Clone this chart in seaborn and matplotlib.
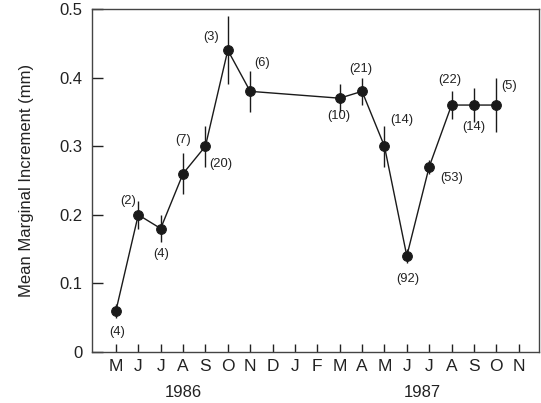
import matplotlib
matplotlib.use("Agg")
import matplotlib.pyplot as plt
import seaborn as sns
import pandas as pd
import numpy as np

# --- data ---
month_labels = ["M", "J", "J", "A", "S", "O", "N", "D", "J", "F", "M", "A", "M", "J", "J", "A", "S", "O", "N"]
sample_month_idx = [0, 1, 2, 3, 4, 5, 6, 10, 11, 12, 13, 14, 15, 16, 17]
mean_increment = [0.06, 0.20, 0.18, 0.26, 0.30, 0.44, 0.38, 0.37, 0.38, 0.30, 0.14, 0.27, 0.36, 0.36, 0.36]
error = [0.01, 0.02, 0.02, 0.03, 0.03, 0.05, 0.03, 0.02, 0.02, 0.03, 0.01, 0.01, 0.02, 0.025, 0.04]
sample_n = [4, 2, 4, 7, 20, 3, 6, 10, 21, 14, 92, 53, 22, 14, 5]
year_labels = ["1986", "1987"]
year_pos = [3.0, 13.7]

# label offsets in pixels (placement only)
label_offsets = [(1, -21), (-10, 14), (1, -25), (0, 34), (15, -18), (-17, 13), (12, 28),
                 (-1, -18), (-1, 22), (17, 26), (1, -23), (22, -11), (-2, 25), (0, -22), (13, 19)]

df = pd.DataFrame({"month": sample_month_idx, "mmi": mean_increment, "err": error, "n": sample_n})

sns.set_style("ticks")
plt.rcParams['font.family'] = ['Liberation Sans', 'DejaVu Sans']
plt.rcParams['xtick.direction'] = 'in'
plt.rcParams['ytick.direction'] = 'in'

fig = plt.figure(figsize=(5.41, 4.03), dpi=100)
ax = fig.add_axes([0.170, 0.1266, 0.826, 0.851])

col = "#1a1a1a"
ax.errorbar(df["month"], df["mmi"], yerr=df["err"], fmt="none", ecolor=col, elinewidth=1.0, capsize=0, zorder=2)
sns.lineplot(data=df, x="month", y="mmi", ax=ax, color=col, linewidth=1.0, marker="o",
             markersize=7, markeredgecolor=col, markerfacecolor=col, sort=False, zorder=3)

for (x, y, n), (dx, dy) in zip(zip(df["month"], df["mmi"], df["n"]), label_offsets):
    ax.annotate(f"({n})", (x, y), xytext=(dx, dy), textcoords="offset pixels",
                ha="center", va="center", fontsize=9.3, color="#222222")

ax.set_xlim(-1.07, 18.9)
ax.set_ylim(0, 0.5)
ax.set_xticks(range(len(month_labels)))
ax.set_xticklabels(month_labels, fontsize=12.5)
ax.set_yticks([0, 0.1, 0.2, 0.3, 0.4, 0.5])
ax.set_yticklabels(["0", "0.1", "0.2", "0.3", "0.4", "0.5"], fontsize=12)
ax.tick_params(axis="y", direction="in", length=8, width=1, pad=7, colors="#222222")
ax.tick_params(axis="x", direction="in", length=6, width=1, pad=5, colors="#222222")
for s in ax.spines.values():
    s.set_visible(True)
    s.set_linewidth(1.0)
    s.set_color("#444444")

ax.set_xlabel("")
ax.set_ylabel("Mean Marginal Increment (mm)", fontsize=12, color="#222222", labelpad=18)

for lab, xp in zip(year_labels, year_pos):
    ax.text(xp, -0.117, lab, transform=ax.get_xaxis_transform(), ha="center", va="center",
            fontsize=12, color="#222222")

fig.savefig("out.png", dpi=100)
